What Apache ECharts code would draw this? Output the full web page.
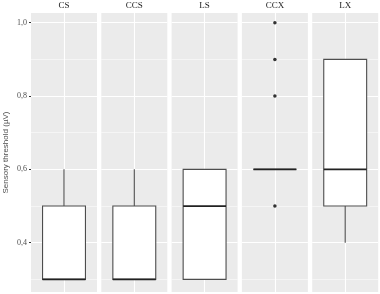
<!DOCTYPE html>
<html>
<head>
<meta charset="utf-8">
<script src="https://cdn.jsdelivr.net/npm/echarts@6/dist/echarts.min.js"></script>
<style>
  html, body { margin: 0; padding: 0; background: #fff; }
  #chart { width: 380px; height: 294px; }
</style>
</head>
<body>
<div id="chart"></div>
<script>
// groups (facets)
var groups = ['CS', 'CCS', 'LS', 'CCX', 'LX'];
// box stats per group: [min, q1, median, q3, max]
var boxStats = [
  [0.3, 0.3, 0.3, 0.5, 0.6],
  [0.3, 0.3, 0.3, 0.5, 0.6],
  [0.3, 0.3, 0.5, 0.6, 0.6],
  [0.6, 0.6, 0.6, 0.6, 0.6],
  [0.4, 0.5, 0.6, 0.9, 0.9]
];
// outliers per group
var outliers = [[], [], [], [0.5, 0.8, 0.9, 1.0], []];
var yTicks = [0.4, 0.6, 0.8, 1.0];
var yMinor = [0.3, 0.5, 0.7, 0.9];
var yMin = 0.2655, yMax = 1.0265;

var panelLeft = 31, panelW = 66, panelStep = 70.3;

var grids = [], xAxes = [], yAxes = [], series = [];

groups.forEach(function (g, i) {
  grids.push({
    left: panelLeft + i * panelStep, width: panelW, top: 13, bottom: 2,
    show: true, backgroundColor: '#ebebeb', borderWidth: 0
  });
  xAxes.push({
    gridIndex: i, type: 'category', data: [g], position: 'top',
    axisLine: { show: false }, axisTick: { show: false },
    axisLabel: { margin: 3, color: '#1a1a1a', fontFamily: 'Liberation Serif', fontSize: 9 },
    splitLine: { show: false }
  });
  yAxes.push({
    gridIndex: i, type: 'value', min: yMin, max: yMax,
    name: i === 0 ? 'Sensory threshold (µV)' : '',
    nameLocation: 'middle', nameGap: 21,
    nameTextStyle: { color: '#4d4d4d', fontFamily: 'Liberation Sans', fontSize: 8 },
    axisLine: { show: false },
    axisTick: { show: i === 0, customValues: yTicks, length: 2, lineStyle: { color: '#333' } },
    axisLabel: {
      show: i === 0, customValues: yTicks, margin: 4,
      color: '#4d4d4d', fontFamily: 'Liberation Serif', fontSize: 8,
      formatter: function (v) { return v.toFixed(1).replace('.', ','); }
    },
    splitLine: { show: false }
  });

  // grid lines
  var lines = yTicks.map(function (v) {
    return { yAxis: v, lineStyle: { color: '#fff', width: 1.1, type: 'solid' } };
  }).concat(yMinor.map(function (v) {
    return { yAxis: v, lineStyle: { color: '#fff', width: 0.5, type: 'solid' } };
  }));
  lines.push({ xAxis: g, lineStyle: { color: '#fff', width: 1.1, type: 'solid' } });
  series.push({
    type: 'line', xAxisIndex: i, yAxisIndex: i, data: [], z: 1, silent: true,
    markLine: { z: 1, silent: true, symbol: 'none', label: { show: false }, animation: false, data: lines }
  });

  // box
  series.push({
    type: 'custom', xAxisIndex: i, yAxisIndex: i, z: 10,
    data: [[0].concat(boxStats[i])],
    renderItem: function (params, api) {
      var x = api.coord([api.value(0), 0])[0];
      var bw = api.size([1, 0])[0] * 0.65;
      var yLo = api.coord([0, api.value(1)])[1];
      var yQ1 = api.coord([0, api.value(2)])[1];
      var yMd = api.coord([0, api.value(3)])[1];
      var yQ3 = api.coord([0, api.value(4)])[1];
      var yHi = api.coord([0, api.value(5)])[1];
      var st = { stroke: '#4d4d4d', lineWidth: 1.1, fill: null };
      return {
        type: 'group',
        children: [
          { type: 'line', shape: { x1: x, y1: yHi, x2: x, y2: yQ3 }, style: st },
          { type: 'line', shape: { x1: x, y1: yQ1, x2: x, y2: yLo }, style: st },
          { type: 'rect', shape: { x: x - bw / 2, y: yQ3, width: bw, height: yQ1 - yQ3 },
            style: { fill: '#fff', stroke: '#4d4d4d', lineWidth: 1.1 } },
          { type: 'line', shape: { x1: x - bw / 2, y1: yMd, x2: x + bw / 2, y2: yMd },
            style: { stroke: '#222', lineWidth: 1.8 } }
        ]
      };
    }
  });

  // outliers
  series.push({
    type: 'scatter', xAxisIndex: i, yAxisIndex: i, z: 11,
    symbolSize: 3.5, itemStyle: { color: '#000' },
    data: outliers[i].map(function (v) { return [g, v]; })
  });
});

var chart = echarts.init(document.getElementById('chart'));
chart.setOption({
  animation: false,
  backgroundColor: '#fff',
  grid: grids, xAxis: xAxes, yAxis: yAxes, series: series
});
</script>
</body>
</html>
